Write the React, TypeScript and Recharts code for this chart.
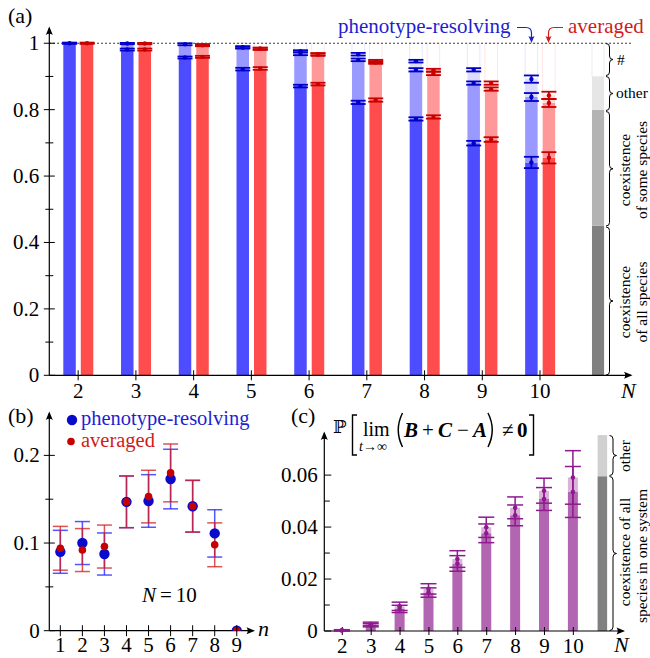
import React from 'react';
import {
  BarChart, Bar, XAxis, YAxis, ErrorBar, ReferenceArea, ReferenceLine, LabelList,
  ScatterChart, Scatter,
} from 'recharts';

const SERIF = "'Liberation Serif', 'Times New Roman', 'DejaVu Serif', serif";
const BLUE_TXT = '#1f1fcf';
const RED_TXT = '#d01c1c';

// ---- (a) outcome fractions, cumulative top of each stack segment ----
const A_N = [2, 3, 4, 5, 6, 7, 8, 9, 10];
const BLUE_ALL = [1.0, 0.981, 0.957, 0.922, 0.871, 0.822, 0.772, 0.699, 0.641];
const BLUE_SOME = [1.0, 0.999, 0.997, 0.987, 0.968, 0.950, 0.920, 0.880, 0.838];
const BLUE_OTHER = [1.0, 0.999, 0.997, 0.988, 0.976, 0.967, 0.946, 0.920, 0.892];
const RED_ALL = [1.0, 0.981, 0.959, 0.924, 0.877, 0.829, 0.778, 0.710, 0.655];
const RED_SOME = [1.0, 0.999, 0.994, 0.983, 0.966, 0.942, 0.909, 0.862, 0.820];
const RED_OTHER = [1.0, 0.999, 0.995, 0.984, 0.967, 0.946, 0.919, 0.880, 0.843];
const ERR_ALL = [0.002, 0.003, 0.003, 0.004, 0.004, 0.005, 0.005, 0.007, 0.017];
const ERR_SOME = [0.002, 0.002, 0.003, 0.003, 0.004, 0.004, 0.005, 0.005, 0.012];
const ERR_OTHER = [0.001, 0.002, 0.002, 0.003, 0.003, 0.004, 0.004, 0.005, 0.011];
const A_Y_TICKS = [0, 0.1, 0.2, 0.3, 0.4, 0.5, 0.6, 0.7, 0.8, 0.9, 1];
const A_Y_LABELS = ['0', '', '0.2', '', '0.4', '', '0.6', '', '0.8', '', '1'];
const A_KEY_BANDS = [0, 0.45, 0.8, 0.9, 1];
const A_KEY_FILLS = ['#808080', '#b3b3b3', '#e6e6e6', '#ffffff'];

// ---- (b) distribution of surviving species, N = 10 ----
const B_N = [1, 2, 3, 4, 5, 6, 7, 8, 9];
const B_BLUE = [0.090, 0.100, 0.0875, 0.147, 0.148, 0.173, 0.142, 0.111, 0];
const B_BLUE_ERR = [0.0245, 0.0245, 0.024, 0.0295, 0.030, 0.034, 0.0295, 0.027, 0];
const B_RED = [0.094, 0.092, 0.096, 0.147, 0.153, 0.180, 0.142, 0.098, 0];
const B_RED_ERR = [0.025, 0.0245, 0.0245, 0.0295, 0.030, 0.033, 0.0295, 0.025, 0];
const B_Y_TICKS = [0, 0.05, 0.1, 0.15, 0.2];
const B_Y_LABELS = ['0', '', '0.1', '', '0.2'];

// ---- (c) P[lim (B+C-A) != 0] ----
const C_N = [2, 3, 4, 5, 6, 7, 8, 9, 10];
const C_ALL = [0.0002, 0.0022, 0.0085, 0.0148, 0.0260, 0.0376, 0.0445, 0.0508, 0.0535];
const C_TOTAL = [0.0003, 0.0027, 0.0095, 0.0162, 0.0277, 0.0399, 0.0474, 0.0540, 0.0591];
const C_ERR_ALL = [0.0002, 0.0006, 0.0014, 0.0018, 0.0030, 0.0036, 0.0040, 0.0044, 0.0098];
const C_ERR_TOTAL = [0.0002, 0.0007, 0.0016, 0.0020, 0.0032, 0.0039, 0.0042, 0.0048, 0.0103];
const C_Y_TICKS = [0, 0.01, 0.02, 0.03, 0.04, 0.05, 0.06];
const C_Y_LABELS = ['0', '', '0.02', '', '0.04', '', '0.06'];
const C_KEY_BANDS = [0, 0.0596, 0.0754];
const C_KEY_FILLS = ['#808080', '#d0d0d0'];

const aRows = A_N.map((n, i) => ({
  n,
  bAll: BLUE_ALL[i],
  bSome: BLUE_SOME[i] - BLUE_ALL[i],
  bOther: BLUE_OTHER[i] - BLUE_SOME[i],
  bRest: 1 - BLUE_OTHER[i],
  rAll: RED_ALL[i],
  rSome: RED_SOME[i] - RED_ALL[i],
  rOther: RED_OTHER[i] - RED_SOME[i],
  rRest: 1 - RED_OTHER[i],
  eAll: ERR_ALL[i],
  eSome: ERR_SOME[i],
  eOther: ERR_OTHER[i],
}));

const bBlue = B_N.map((n, i) => ({ n, v: B_BLUE[i], e: B_BLUE_ERR[i] }));
const bRed = B_N.map((n, i) => ({ n, v: B_RED[i], e: B_RED_ERR[i] }));

const cRows = C_N.map((n, i) => ({
  n,
  all: C_ALL[i],
  other: C_TOTAL[i] - C_ALL[i],
  eAll: C_ERR_ALL[i],
  eTot: C_ERR_TOTAL[i],
}));

// ticks that cross the axis, labels drawn by hand
const yTick = (ticks: number[], labels: string[], gap: number, inward: boolean) => (p: any) => {
  const i = ticks.indexOf(p.payload.value);
  const lab = labels[i] || '';
  const len = lab ? 5.5 : 4;
  return (
    <g>
      <line x1={inward ? p.x : p.x - len} x2={p.x + (inward ? len + 1.5 : len)} y1={p.y} y2={p.y} stroke="#000" strokeWidth={1} />
      {lab && (
        <text x={p.x - gap} y={p.y + 7} textAnchor="end" fontSize={21} fontFamily={SERIF} fill="#000">{lab}</text>
      )}
    </g>
  );
};

const xTick = (dy: number, len: number) => (p: any) => (
  <g>
    <line x1={p.x} x2={p.x} y1={p.y - len} y2={p.y + len} stroke="#000" strokeWidth={1} />
    <text x={p.x} y={p.y + dy} textAnchor="middle" fontSize={21} fontFamily={SERIF} fill="#000">{p.payload.value}</text>
  </g>
);

const barDot = (color: string, r: number) => (p: any) => {
  const vb = p.viewBox && p.viewBox.x != null ? p.viewBox : p;
  if (vb == null || vb.x == null || vb.width == null) return null;
  return <circle cx={vb.x + vb.width / 2} cy={vb.y} r={r} fill={color} />;
};

const circleShape = (r: number, fill: string) => (p: any) => <circle cx={p.cx} cy={p.cy} r={r} fill={fill} />;
const noShape = () => <g />;

const upHead = (x: number, y: number) => `M${x} ${y} L${x - 3.5} ${y + 8.5} Q${x} ${y + 6} ${x + 3.5} ${y + 8.5} Z`;
const rightHead = (x: number, y: number) => `M${x} ${y} L${x - 8.5} ${y - 3.5} Q${x - 6} ${y} ${x - 8.5} ${y + 3.5} Z`;
const downHead = (x: number, y: number) => `M${x} ${y} L${x - 3} ${y - 7} Q${x} ${y - 5} ${x + 3} ${y - 7} Z`;

const brace = (x: number, y1: number, y2: number, w: number) => {
  const m = (y1 + y2) / 2;
  const h = w / 2;
  return `M${x} ${y1} Q${x + h} ${y1} ${x + h} ${y1 + h} L${x + h} ${m - h} Q${x + h} ${m} ${x + w} ${m} ` +
    `Q${x + h} ${m} ${x + h} ${m + h} L${x + h} ${y2 - h} Q${x + h} ${y2} ${x} ${y2}`;
};

const VText = ({ x, y, children }: { x: number; y: number; children: React.ReactNode }) => (
  <text transform={`translate(${x},${y}) rotate(-90)`} textAnchor="middle" fontSize={15.5} fill="#000">{children}</text>
);

const layer: React.CSSProperties = { position: 'absolute', left: 0, top: 0 };

// plot areas (page pixels); visible axes take 1px of the margin
const A_PLOT = { top: 28.3, right: 19, bottom: 282.7, left: 49.3 };
const B_PLOT = { top: 413.3, right: 396.7, bottom: 27.3, left: 49.3 };
const C_PLOT = { top: 433, right: 26.7, bottom: 27, left: 324.3 };
const withAxes = (m: typeof A_PLOT) => ({ ...m, left: m.left - 1, bottom: m.bottom - 1 });
const AXIS = { stroke: '#000', strokeWidth: 1.2 };

export default function App() {
  return (
    <div style={{ position: 'absolute', left: 0, top: 0, width: 650, height: 658, background: '#fff', fontFamily: SERIF }}>
      {/* (a) bars */}
      <div style={layer}>
        <BarChart width={650} height={658} data={aRows} margin={withAxes(A_PLOT)} barSize={12.5} barGap={5}>
          <XAxis type="number" dataKey="n" domain={[1.5, 11.576]} allowDataOverflow ticks={A_N} interval={0}
            height={1} tickSize={0} tickMargin={0} tickLine={false} axisLine={AXIS} tick={xTick(23, 5)} />
          <YAxis type="number" domain={[0, 1.045]} allowDataOverflow ticks={A_Y_TICKS} interval={0}
            width={1} tickSize={0} tickMargin={0} tickLine={false} axisLine={AXIS} tick={yTick(A_Y_TICKS, A_Y_LABELS, 10, false)} />
          {A_KEY_FILLS.map((f, i) => (
            <ReferenceArea key={i} x1={10.9} x2={11.11} y1={A_KEY_BANDS[i]} y2={A_KEY_BANDS[i + 1]}
              fill={f} fillOpacity={1} stroke={i === 3 ? '#ececec' : 'none'} />
          ))}
          <Bar dataKey="bAll" stackId="b" fill="#4d4dff" isAnimationActive={false} />
          <Bar dataKey="bSome" stackId="b" fill="#9999ff" isAnimationActive={false} />
          <Bar dataKey="bOther" stackId="b" fill="#dcdcff" isAnimationActive={false} />
          <Bar dataKey="bRest" stackId="b" fill="#ffffff" stroke="#e6e6ff" isAnimationActive={false} />
          <Bar dataKey="rAll" stackId="r" fill="#ff4d4d" isAnimationActive={false} />
          <Bar dataKey="rSome" stackId="r" fill="#ff9999" isAnimationActive={false} />
          <Bar dataKey="rOther" stackId="r" fill="#ffdcdc" isAnimationActive={false} />
          <Bar dataKey="rRest" stackId="r" fill="#ffffff" stroke="#ffe6e6" isAnimationActive={false} />
        </BarChart>
      </div>
      {/* (a) error bars and dots on top */}
      <div style={layer}>
        <BarChart width={650} height={658} data={aRows} margin={A_PLOT} barSize={12.5} barGap={5}>
          <XAxis type="number" dataKey="n" domain={[1.5, 11.576]} allowDataOverflow ticks={A_N} hide />
          <YAxis type="number" domain={[0, 1.045]} allowDataOverflow ticks={A_Y_TICKS} hide />
          <ReferenceLine y={1} stroke="#000" strokeWidth={1.2} strokeDasharray="1.5 2.5" />
          <Bar dataKey="bAll" stackId="b" fill="none" isAnimationActive={false}>
            <ErrorBar dataKey="eAll" direction="y" width={7.5} stroke="#0000c8" strokeWidth={1.8} />
            <LabelList dataKey="bAll" content={barDot('#0000c8', 2.2)} />
          </Bar>
          <Bar dataKey="bSome" stackId="b" fill="none" isAnimationActive={false}>
            <ErrorBar dataKey="eSome" direction="y" width={7.5} stroke="#0000c8" strokeWidth={1.8} />
            <LabelList dataKey="bSome" content={barDot('#0000c8', 2.2)} />
          </Bar>
          <Bar dataKey="bOther" stackId="b" fill="none" isAnimationActive={false}>
            <ErrorBar dataKey="eOther" direction="y" width={7.5} stroke="#0000c8" strokeWidth={1.8} />
            <LabelList dataKey="bOther" content={barDot('#0000c8', 2.2)} />
          </Bar>
          <Bar dataKey="bRest" stackId="b" fill="none" isAnimationActive={false} />
          <Bar dataKey="rAll" stackId="r" fill="none" isAnimationActive={false}>
            <ErrorBar dataKey="eAll" direction="y" width={7.5} stroke="#c80000" strokeWidth={1.8} />
            <LabelList dataKey="rAll" content={barDot('#c80000', 2.2)} />
          </Bar>
          <Bar dataKey="rSome" stackId="r" fill="none" isAnimationActive={false}>
            <ErrorBar dataKey="eSome" direction="y" width={7.5} stroke="#c80000" strokeWidth={1.8} />
            <LabelList dataKey="rSome" content={barDot('#c80000', 2.2)} />
          </Bar>
          <Bar dataKey="rOther" stackId="r" fill="none" isAnimationActive={false}>
            <ErrorBar dataKey="eOther" direction="y" width={7.5} stroke="#c80000" strokeWidth={1.8} />
            <LabelList dataKey="rOther" content={barDot('#c80000', 2.2)} />
          </Bar>
          <Bar dataKey="rRest" stackId="r" fill="none" isAnimationActive={false} />
        </BarChart>
      </div>

      {/* (b) */}
      <div style={layer}>
        <ScatterChart width={650} height={658} margin={withAxes(B_PLOT)}>
          <XAxis type="number" dataKey="n" domain={[0.5, 9.75]} allowDataOverflow ticks={B_N} interval={0}
            height={1} tickSize={0} tickMargin={0} tickLine={false} axisLine={AXIS} tick={xTick(21, 5.5)} />
          <YAxis type="number" dataKey="v" domain={[0, 0.248]} allowDataOverflow ticks={B_Y_TICKS} interval={0}
            width={1} tickSize={0} tickMargin={0} tickLine={false} axisLine={AXIS} tick={yTick(B_Y_TICKS, B_Y_LABELS, 9.5, false)} />
          <Scatter data={bBlue.filter((d) => d.e > 0)} shape={noShape} isAnimationActive={false}>
            <ErrorBar dataKey="e" direction="y" width={7.5} stroke="#2a2aff" strokeOpacity={0.8} strokeWidth={1.5} />
          </Scatter>
          <Scatter data={bRed.filter((d) => d.e > 0)} shape={noShape} isAnimationActive={false}>
            <ErrorBar dataKey="e" direction="y" width={7.5} stroke="#d61a1a" strokeOpacity={0.75} strokeWidth={1.5} />
          </Scatter>
          <Scatter data={bBlue} shape={circleShape(5.2, '#0a0acc')} isAnimationActive={false} />
          <Scatter data={bRed} shape={circleShape(3.8, '#c80000')} isAnimationActive={false} />
        </ScatterChart>
      </div>

      {/* (c) bars */}
      <div style={layer}>
        <BarChart width={650} height={658} data={cRows} margin={withAxes(C_PLOT)} barSize={10}>
          <XAxis type="number" dataKey="n" domain={[1.377, 11.73]} allowDataOverflow ticks={C_N} interval={0}
            height={1} tickSize={0} tickMargin={0} tickLine={false} axisLine={AXIS} tick={xTick(22, 4)} />
          <YAxis type="number" domain={[0, 0.0762]} allowDataOverflow ticks={C_Y_TICKS} interval={0}
            width={1} tickSize={0} tickMargin={0} tickLine={false} axisLine={AXIS} tick={yTick(C_Y_TICKS, C_Y_LABELS, 6.5, true)} />
          {C_KEY_FILLS.map((f, i) => (
            <ReferenceArea key={i} x1={10.84} x2={11.17} y1={C_KEY_BANDS[i]} y2={C_KEY_BANDS[i + 1]}
              fill={f} fillOpacity={1} stroke="none" />
          ))}
          <Bar dataKey="all" stackId="c" fill="#b266b2" isAnimationActive={false} />
          <Bar dataKey="other" stackId="c" fill="#d9b3d9" isAnimationActive={false} />
        </BarChart>
      </div>
      <div style={layer}>
        <BarChart width={650} height={658} data={cRows} margin={C_PLOT} barSize={10}>
          <XAxis type="number" dataKey="n" domain={[1.377, 11.73]} allowDataOverflow ticks={C_N} hide />
          <YAxis type="number" domain={[0, 0.0762]} allowDataOverflow ticks={C_Y_TICKS} hide />
          <Bar dataKey="all" stackId="c" fill="none" isAnimationActive={false}>
            <ErrorBar dataKey="eAll" direction="y" width={8} stroke="#8e1a8e" strokeWidth={1.5} />
            <LabelList dataKey="all" content={barDot('#8e1a8e', 2.3)} />
          </Bar>
          <Bar dataKey="other" stackId="c" fill="none" isAnimationActive={false}>
            <ErrorBar dataKey="eTot" direction="y" width={8} stroke="#8e1a8e" strokeWidth={1.5} />
            <LabelList dataKey="other" content={barDot('#8e1a8e', 2.3)} />
          </Bar>
        </BarChart>
      </div>

      {/* annotations */}
      <svg width={650} height={658} style={{ ...layer, pointerEvents: 'none' }} fontFamily={SERIF}>
        <text x={8} y={23} fontSize={22}>(a)</text>
        <text x={8} y={423} fontSize={22}>(b)</text>
        <text x={291} y={423} fontSize={22}>(c)</text>

        <path d={upHead(49.3, 26.5)} fill="#000" />
        <path d={rightHead(632.5, 375.3)} fill="#000" />
        <text x={621} y={398} fontSize={22} fontStyle="italic">N</text>
        <path d={upHead(49.3, 411.5)} fill="#000" />
        <path d={rightHead(255, 630.7)} fill="#000" />
        <text x={258} y={636} fontSize={22} fontStyle="italic">n</text>
        <path d={upHead(324.3, 431.5)} fill="#000" />
        <path d={rightHead(625, 631)} fill="#000" />
        <text x={614} y={652} fontSize={22} fontStyle="italic">N</text>

        {/* (a) series labels */}
        <text x={338} y={32.5} fontSize={21} fill={BLUE_TXT}>phenotype-resolving</text>
        <path d="M517 27.5 H526 Q531.5 27.5 531.5 33 V38" fill="none" stroke={BLUE_TXT} strokeWidth={1.2} />
        <path d={downHead(531.5, 43)} fill={BLUE_TXT} />
        <text x={568} y={32.5} fontSize={21} fill={RED_TXT}>averaged</text>
        <path d="M563 27.5 H554 Q548.5 27.5 548.5 33 V38" fill="none" stroke={RED_TXT} strokeWidth={1.2} />
        <path d={downHead(548.5, 43)} fill={RED_TXT} />

        {/* (a) key */}
        <path d={brace(606, 43.5, 75.5, 7)} fill="none" stroke="#000" strokeWidth={1} />
        <path d={brace(606, 76.5, 110.5, 7)} fill="none" stroke="#000" strokeWidth={1} />
        <path d={brace(606, 111.5, 226, 7)} fill="none" stroke="#000" strokeWidth={1} />
        <path d={brace(606, 227, 375, 7)} fill="none" stroke="#000" strokeWidth={1} />
        <text x={617} y={65} fontSize={15.5}>#</text>
        <text x={616} y={98} fontSize={15.5}>other</text>
        <VText x={630} y={170}>coexistence</VText>
        <VText x={647} y={170}>of some species</VText>
        <VText x={630} y={302}>coexistence</VText>
        <VText x={647} y={302}>of all species</VText>

        {/* (b) legend */}
        <circle cx={72} cy={420} r={5.2} fill="#0a0acc" />
        <text x={81} y={425} fontSize={20.5} fill={BLUE_TXT}>phenotype-resolving</text>
        <circle cx={71} cy={441.5} r={3.8} fill="#c80000" />
        <text x={81} y={447} fontSize={20.5} fill={RED_TXT}>averaged</text>
        <text x={142} y={602} fontSize={21}>
          <tspan fontStyle="italic">N</tspan>
          <tspan dx={4}>=</tspan>
          <tspan dx={4}>10</tspan>
        </text>

        {/* (c) title */}
        <text x={333} y={433} fontSize={18} fontFamily="'DejaVu Serif', serif">ℙ</text>
        <path d="M357 415 H352.5 V455 H357" fill="none" stroke="#000" strokeWidth={1.4} />
        <text x={363} y={436} fontSize={20}>lim</text>
        <text x={359} y={451} fontSize={14}><tspan fontStyle="italic">t</tspan>→∞</text>
        <path d="M402.5 413 Q394 430 402.5 447" fill="none" stroke="#000" strokeWidth={1.5} />
        <text x={404} y={437} fontSize={21} fontWeight="bold" fontStyle="italic">B</text>
        <text x={422} y={437} fontSize={21}>+</text>
        <text x={438} y={437} fontSize={21} fontWeight="bold" fontStyle="italic">C</text>
        <text x={457} y={437} fontSize={21}>−</text>
        <text x={473} y={437} fontSize={21} fontWeight="bold" fontStyle="italic">A</text>
        <path d="M488 413 Q496.5 430 488 447" fill="none" stroke="#000" strokeWidth={1.5} />
        <text x={502} y={437} fontSize={21}>≠</text>
        <text x={517} y={437} fontSize={21} fontWeight="bold">0</text>
        <path d="M529 415 H533.5 V455 H529" fill="none" stroke="#000" strokeWidth={1.4} />

        {/* (c) key */}
        <path d={brace(609.5, 435.5, 475.5, 7)} fill="none" stroke="#000" strokeWidth={1} />
        <path d={brace(609.5, 476.5, 630.5, 7)} fill="none" stroke="#000" strokeWidth={1} />
        <VText x={630} y={456}>other</VText>
        <VText x={630} y={552}>coexistence of all</VText>
        <VText x={647} y={556}>species in one system</VText>
      </svg>
    </div>
  );
}
